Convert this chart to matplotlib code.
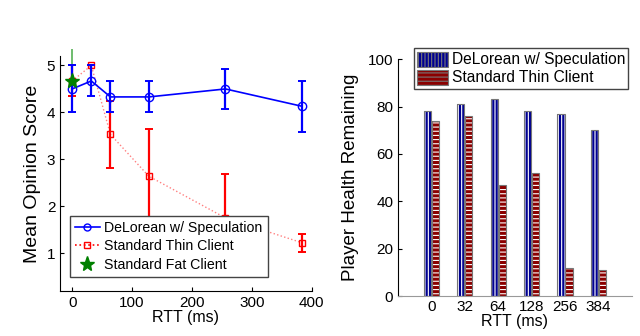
import numpy as np
import matplotlib
matplotlib.use("Agg")
import matplotlib.pyplot as plt

plt.rcParams['font.family'] = ['Liberation Sans', 'DejaVu Sans']
plt.rcParams['hatch.color'] = 'white'
plt.rcParams['hatch.linewidth'] = 0.8

# left panel: mean opinion score vs RTT
rtt = [0, 32, 64, 128, 256, 384]
mos_delorean = [4.5, 4.67, 4.33, 4.33, 4.5, 4.13]
err_delorean = [0.5, 0.33, 0.33, 0.33, 0.42, 0.55]
mos_thin = [4.67, 5.0, 3.53, 2.64, 1.75, 1.22]
err_thin = [0.33, 0.0, 0.72, 1.0, 0.93, 0.19]
fat_rtt = [0]
mos_fat = [4.68]
err_fat = [0.68]

# right panel: player health remaining
rtt_labels = ['0', '32', '64', '128', '256', '384']
health_delorean = [78, 81, 83, 78, 77, 70]
health_thin = [74, 76, 47, 52, 12, 11]

fig = plt.figure(figsize=(6.4, 3.36), dpi=100)

# ---- left ----
ax1 = fig.add_axes([0.094, 0.135, 0.393, 0.698])
ax1.errorbar(fat_rtt, mos_fat, yerr=err_fat, color='#55b055', lw=1.2,
             fmt='none', clip_on=False, zorder=1)
ax1.errorbar(rtt, mos_thin, yerr=err_thin, color='red', lw=1.6, capsize=3,
             capthick=1.4, fmt='none', zorder=2)
ax1.plot(rtt, mos_thin, color='red', ls=':', lw=1.0, alpha=0.5, zorder=2)
ax1.plot(rtt, mos_thin, ls='none', marker='s', ms=5, mfc='none',
         mec='red', mew=1.0, zorder=3)
ax1.errorbar(rtt, mos_delorean, yerr=err_delorean, color='blue', lw=1.6,
             capsize=3, capthick=1.4, fmt='none', zorder=4)
ax1.plot(rtt, mos_delorean, color='blue', lw=1.2, marker='o', ms=6,
         mfc='none', mec='blue', mew=1.0, zorder=4)
ax1.plot(fat_rtt, mos_fat, ls='none', marker='*', ms=11, color='green',
         zorder=5)

h1, = ax1.plot([], [], color='blue', lw=1.2, marker='o', ms=5, mfc='none',
               mec='blue', label='DeLorean w/ Speculation')
h2, = ax1.plot([], [], color='red', ls=':', lw=1.2, marker='s', ms=4,
               mfc='none', mec='red', label='Standard Thin Client')
h3, = ax1.plot([], [], ls='none', marker='*', ms=11, color='green',
               label='Standard Fat Client')
leg1 = ax1.legend(handles=[h1, h2, h3], loc='lower left',
                  bbox_to_anchor=(0.01, 0.03), fontsize=10.2, frameon=True,
                  fancybox=False, edgecolor='#444444', framealpha=1,
                  handlelength=1.8, borderpad=0.35, labelspacing=0.3,
                  handletextpad=0.3)
leg1.get_frame().set_linewidth(1.0)

ax1.set_xlim(-20, 400)
ax1.set_ylim(0.2, 5.2)
ax1.set_xticks([0, 100, 200, 300, 400])
ax1.set_yticks([1, 2, 3, 4, 5])
ax1.set_xlabel('RTT (ms)', fontsize=11.5, labelpad=0)
ax1.set_ylabel('Mean Opinion Score', fontsize=14, labelpad=4)

# ---- right ----
ax2 = fig.add_axes([0.622, 0.119, 0.365, 0.705])
x = np.arange(1, len(rtt_labels) + 1)
w = 0.22
ax2.bar(x - w / 2 - 0.01, health_delorean, w, color='#000090', hatch='|||||',
        lw=0, zorder=2)
ax2.bar(x - w / 2 - 0.01, health_delorean, w, fill=False, edgecolor='#777777',
        lw=0.8, zorder=3)
ax2.bar(x + w / 2 + 0.01, health_thin, w, color='#8b0000', hatch='----',
        lw=0, zorder=2)
ax2.bar(x + w / 2 + 0.01, health_thin, w, fill=False, edgecolor='#777777',
        lw=0.8, zorder=3)

p1 = plt.Rectangle((0, 0), 1, 1, facecolor='#000090', hatch='|||||',
                   edgecolor='#777777', lw=0.8)
p2 = plt.Rectangle((0, 0), 1, 1, facecolor='#8b0000', hatch='----',
                   edgecolor='#777777', lw=0.8)
leg2 = ax2.legend([p1, p2], ['DeLorean w/ Speculation', 'Standard Thin Client'],
                  loc='upper right', bbox_to_anchor=(0.985, 1.045), fontsize=11.2,
                  frameon=True, fancybox=False, edgecolor='#444444',
                  framealpha=1, handlelength=2.0, handleheight=1.1,
                  borderpad=0.2, labelspacing=0.15, handletextpad=0.2,
                  borderaxespad=0.0)
leg2.get_frame().set_linewidth(1.0)

ax2.set_xlim(0, 7)
ax2.set_ylim(0, 100)
ax2.set_xticks(x)
ax2.set_xticklabels(rtt_labels)
ax2.set_yticks([0, 20, 40, 60, 80, 100])
ax2.set_xlabel('RTT (ms)', fontsize=11.5, labelpad=0)
ax2.set_ylabel('Player Health Remaining', fontsize=13.5, labelpad=6)

for ax in (ax1, ax2):
    ax.spines['top'].set_visible(False)
    ax.spines['right'].set_visible(False)
    ax.tick_params(direction='in', labelsize=11, length=3, width=0.8)
    ax.tick_params(axis='x', pad=4)

ax2.spines['bottom'].set_color('#999999')
ax2.tick_params(axis='x', length=0, pad=3)

fig.savefig('out.png', dpi=100)
